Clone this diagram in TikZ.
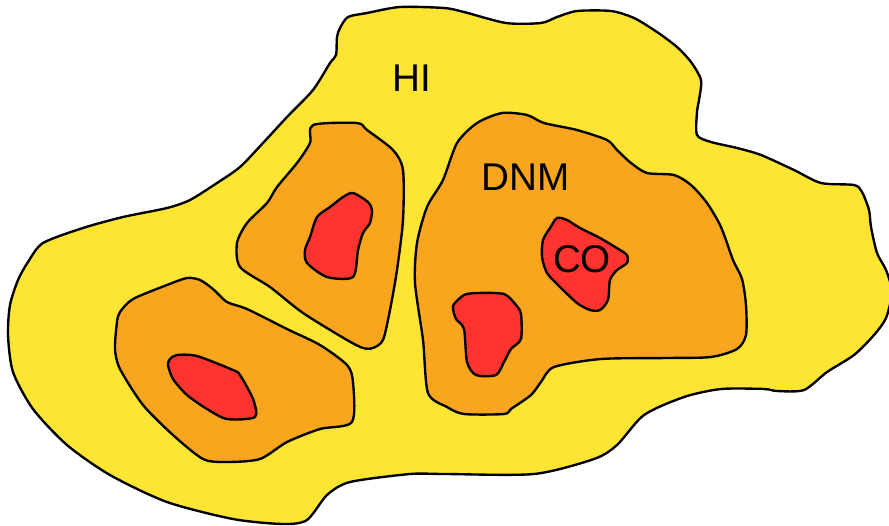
\documentclass[tikz,border=0pt]{standalone}
\usepackage{fontspec}
\setmainfont{Liberation Sans}
\usepackage{tikz}

\definecolor{hiyellow}{RGB}{255,229,51}
\definecolor{dnmorange}{RGB}{250,165,30}
\definecolor{cored}{RGB}{255,51,48}

\begin{document}
\begin{tikzpicture}[
  x=0.02cm, y=-0.02cm,
  cloud/.style={draw, line width=1.35pt, line join=round},
  hi/.style={cloud, fill=hiyellow},
  dnm/.style={cloud, fill=dnmorange},
  co/.style={cloud, fill=cored},
  lbl/.style={font=\fontsize{22}{26}\selectfont, inner sep=0pt}
]
\useasboundingbox (0,0) rectangle (889,525);

% HI envelope
\draw[hi] plot[smooth cycle, tension=0.45] coordinates {
  (28,262) (43,243) (83,228) (123,217) (167,208) (190,200) (217,183)
  (240,167) (263,143) (287,117) (313,90) (330,63) (336,55) (337,37)
  (340,28) (348,17) (367,13) (400,7) (444,8) (464,12) (506,23) (541,23)
  (557,17) (577,11) (611,11) (634,18) (657,32) (677,47) (691,62) (701,80)
  (699,100) (697,112) (697,135) (711,142) (737,148) (761,155) (794,170)
  (821,183) (854,185) (862,192) (869,210) (871,227) (877,253) (886,270)
  (892,292) (886,318) (874,335) (854,355) (827,372) (804,390) (777,391)
  (764,389) (721,389) (684,397) (644,415) (617,445) (594,459) (534,474)
  (445,474) (410,474) (350,482) (327,495) (307,520) (283,524) (233,519)
  (167,502) (110,475) (67,445) (33,409) (13,372) (8,335) (10,305) (18,280)};

% DNM clumps
\draw[dnm] plot[smooth cycle, tension=0.45] coordinates {
  (313,125) (357,123) (367,130) (393,150) (403,170) (403,220) (397,270)
  (390,310) (383,340) (373,348) (363,348) (347,340) (303,313) (270,287)
  (240,267) (237,243) (247,223) (267,203) (277,187) (297,163) (310,143)};
\draw[dnm] plot[smooth cycle, tension=0.45] coordinates {
  (120,312) (133,299) (167,285) (187,278) (200,280) (213,289) (227,302)
  (247,309) (287,329) (320,345) (347,365) (353,382) (352,422) (320,429)
  (287,442) (260,459) (227,462) (203,459) (173,435) (143,405) (120,369)
  (115,349) (117,322)};
\draw[dnm] plot[smooth cycle, tension=0.45] coordinates {
  (502,113) (527,115) (544,123) (577,130) (607,140) (617,150) (631,163)
  (647,173) (674,175) (691,185) (707,203) (721,227) (733,260) (742,279)
  (746,305) (746,335) (737,349) (711,357) (667,358) (601,359) (554,367)
  (541,382) (531,395) (511,409) (504,414) (464,414) (447,407) (428,393)
  (423,340) (415,283) (417,243) (427,207) (443,180) (457,143) (477,123)};

% CO cores
\draw[co] plot[smooth cycle, tension=0.45] coordinates {
  (353,193) (368,202) (372,210) (370,223) (363,233) (358,250) (353,277)
  (327,277) (307,263) (305,250) (310,237) (317,217) (330,207) (343,197)};
\draw[co] plot[smooth cycle, tension=0.45] coordinates {
  (170,359) (177,355) (197,356) (233,370) (240,375) (253,399) (255,417)
  (227,419) (207,409) (187,395) (173,379) (168,365)};
\draw[co] plot[smooth cycle, tension=0.45] coordinates {
  (454,304) (464,295) (477,293) (504,294) (516,305) (521,314) (521,339)
  (511,349) (504,362) (496,375) (476,375) (467,362) (464,329) (456,319)
  (453,309)};
\draw[co] plot[smooth cycle, tension=0.45] coordinates {
  (557,218) (567,220) (580,228) (600,238) (620,250) (627,255) (627,263)
  (617,270) (610,280) (608,300) (600,310) (590,310) (577,303) (560,287)
  (547,273) (542,257) (543,240) (550,228)};

% labels
\node[lbl] (hi) at (412,78) {HI};
\node[lbl] (dnm) at (526,177) {DNM};
\node[lbl] (co) at (582,259) {CO};
\end{tikzpicture}
\end{document}
